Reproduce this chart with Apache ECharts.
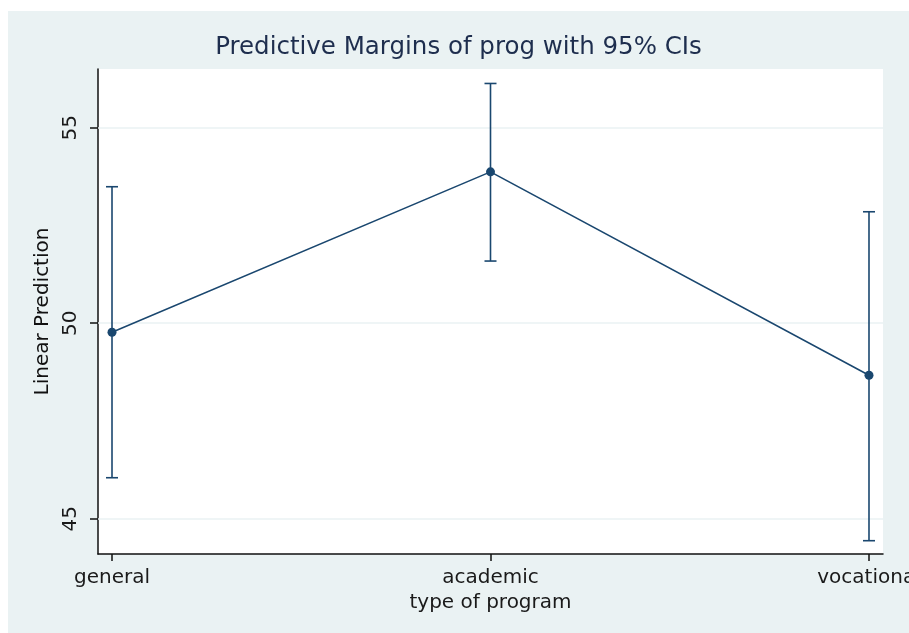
<!DOCTYPE html>
<html>
<head>
  <meta charset="utf-8">
  <script src="https://cdn.jsdelivr.net/npm/echarts@6/dist/echarts.min.js"></script>
  <style>
    body { margin: 0; background: #fff; }
    #main { position: absolute; left: 8px; top: 11px; width: 901px; height: 622px; }
  </style>
</head>
<body>
<div id="main"></div>
<script type="text/javascript">
// margins of prog
var programs = ['general', 'academic', 'vocational'];
var margins  = [49.77, 53.87, 48.67];
var ciLow    = [46.05, 51.59, 44.44];
var ciHigh   = [53.49, 56.13, 52.85];
var yTicks   = [45, 50, 55];

var lineColor = '#1a476f';
var font = 'DejaVu Sans';

var meanData = margins.map(function (v, i) { return [i, v]; });
var ciData = margins.map(function (v, i) { return [i, ciLow[i], ciHigh[i]]; });

var myChart = echarts.init(document.getElementById('main'));

myChart.setOption({
  backgroundColor: '#eaf2f3',
  animation: false,
  title: {
    text: 'Predictive Margins of prog with 95% CIs',
    left: 'center',
    top: 24,
    padding: 0,
    textStyle: { fontFamily: font, fontSize: 24.5, fontWeight: 'normal', color: '#1e2e4e' }
  },
  grid: {
    left: 90, top: 58, right: 26, bottom: 79,
    outerBoundsMode: 'none',
    containLabel: false,
    show: true, backgroundColor: '#ffffff', borderWidth: 0
  },
  xAxis: {
    type: 'value',
    min: -0.037, max: 2.037,
    name: 'type of program',
    nameLocation: 'middle',
    nameGap: 37,
    nameTextStyle: { fontFamily: font, fontSize: 20, color: '#1a1a1a' },
    axisLine: { onZero: false, lineStyle: { color: '#111', width: 1.5 } },
    axisTick: { customValues: [0, 1, 2], length: 7, lineStyle: { color: '#111', width: 1.5 } },
    axisLabel: {
      customValues: [0, 1, 2],
      margin: 14,
      hideOverlap: false,
      fontFamily: font, fontSize: 20, color: '#1a1a1a',
      formatter: function (v) { return programs[Math.round(v)]; }
    },
    splitLine: { show: false }
  },
  yAxis: {
    type: 'value',
    min: 44.1, max: 56.5,
    name: 'Linear Prediction',
    nameLocation: 'middle',
    nameGap: 44,
    nameTextStyle: { fontFamily: font, fontSize: 20, color: '#111' },
    axisLine: { show: true, onZero: false, lineStyle: { color: '#111', width: 1.5 } },
    axisTick: { show: true, customValues: yTicks, length: 8, lineStyle: { color: '#111', width: 1.5 } },
    axisLabel: {
      customValues: yTicks,
      rotate: 90,
      margin: 17,
      fontFamily: font, fontSize: 20, color: '#1a1a1a'
    },
    splitLine: { show: false }
  },
  series: [
    {
      type: 'line',
      data: meanData,
      symbol: 'circle',
      symbolSize: 9,
      lineStyle: { color: lineColor, width: 1.6 },
      itemStyle: { color: lineColor },
      z: 3,
      markLine: {
        silent: true,
        symbol: 'none',
        label: { show: false },
        lineStyle: { color: '#eaf2f3', type: 'solid', width: 1.5 },
        data: yTicks.map(function (t) { return { yAxis: t }; }),
        z: 1
      }
    },
    {
      type: 'custom',
      data: ciData,
      z: 4,
      renderItem: function (params, api) {
        var x = api.value(0);
        var lo = api.coord([x, api.value(1)]);
        var hi = api.coord([x, api.value(2)]);
        var cap = 6;
        var style = { stroke: lineColor, lineWidth: 1.6, fill: null };
        return {
          type: 'group',
          children: [
            { type: 'line', shape: { x1: lo[0], y1: lo[1], x2: hi[0], y2: hi[1] }, style: style },
            { type: 'line', shape: { x1: lo[0] - cap, y1: lo[1], x2: lo[0] + cap, y2: lo[1] }, style: style },
            { type: 'line', shape: { x1: hi[0] - cap, y1: hi[1], x2: hi[0] + cap, y2: hi[1] }, style: style }
          ]
        };
      }
    }
  ]
});
</script>
</body>
</html>
